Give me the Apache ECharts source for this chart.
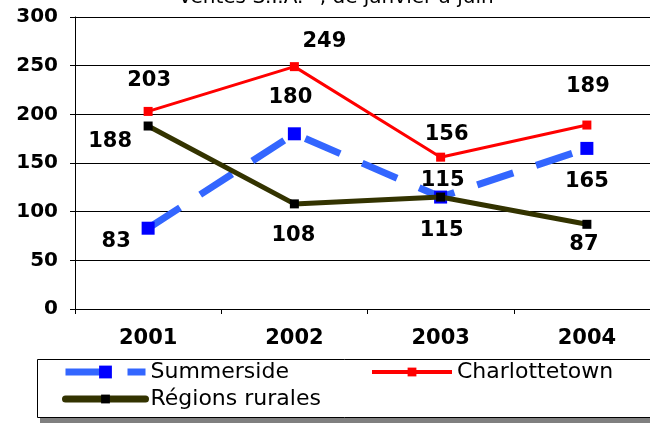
<!DOCTYPE html>
<html>
<head>
<meta charset="utf-8">
<script src="https://cdn.jsdelivr.net/npm/echarts@6/dist/echarts.min.js"></script>
<style>
  html, body { margin: 0; padding: 0; background: #fff; }
  #chart { width: 650px; height: 423px; }
</style>
</head>
<body>
<div id="chart"></div>
<script>
// Ventes S.I.A., janvier à juin
const years = ['2001', '2002', '2003', '2004'];
const summerside = [83, 180, 115, 165];
const charlottetown = [203, 249, 156, 189];
const rurales = [188, 108, 115, 87];
const yTicks = { min: 0, max: 300, step: 50 };

// where each value label sits relative to its point (pixels)
const summersideLabelPos = [[-32, 13], [-4, -36], [2, -17], [0, 33]];
const charlottetownLabelPos = [[1, -31], [30, -25], [6, -23], [1, -38]];
const ruralesLabelPos = [[-38, 16], [-1, 32], [1, 33], [-3, 20]];

const FONT = 'DejaVu Sans';

function labelAt(offset) {
    return {
        show: true,
        position: 'inside',
        offset: offset,
        color: '#000',
        fontFamily: FONT,
        fontWeight: 'bold',
        fontSize: 21
    };
}

function withLabels(values, offsets) {
    return values.map((v, i) => ({ value: v, label: labelAt(offsets[i]) }));
}

const legendText = { color: '#000', fontFamily: FONT, fontSize: 22 };

const chart = echarts.init(document.getElementById('chart'));
chart.setOption({
    animation: false,
    backgroundColor: '#fff',
    title: {
        text: 'Ventes S.I.A.* , de janvier à juin',
        left: 336,
        textAlign: 'center',
        top: -12,
        padding: 0,
        textStyle: { fontFamily: FONT, fontSize: 20, fontWeight: 'normal', color: '#000' }
    },
    grid: { left: 75, top: 17, width: 585, height: 292, containLabel: false, outerBoundsMode: 'none' },
    xAxis: {
        type: 'category',
        data: years,
        boundaryGap: true,
        axisLine: { lineStyle: { color: '#000', width: 1 } },
        axisTick: { show: true, length: 5, inside: false, lineStyle: { color: '#000' } },
        axisLabel: { margin: 19, color: '#000', fontFamily: FONT, fontWeight: 'bold', fontSize: 21 }
    },
    yAxis: {
        type: 'value',
        min: yTicks.min,
        max: yTicks.max,
        interval: yTicks.step,
        axisLine: { show: true, lineStyle: { color: '#000', width: 1 } },
        axisTick: { show: true, length: 5, lineStyle: { color: '#000' } },
        axisLabel: { margin: 17, color: '#000', fontFamily: FONT, fontWeight: 'bold', fontSize: 20 },
        splitLine: { show: true, lineStyle: { color: '#000', width: 1 } }
    },
    legend: [
        {
            data: ['Summerside'], left: 62, top: 361, padding: 0,
            itemWidth: 80, itemHeight: 16, textStyle: legendText,
            lineStyle: { width: 7 }
        },
        {
            data: ['Charlottetown'], left: 370, top: 361, padding: 0,
            itemWidth: 80, itemHeight: 11, textStyle: legendText,
            lineStyle: { width: 4 }
        },
        {
            data: ['Régions rurales'], left: 62, top: 388, padding: 0,
            itemWidth: 80, itemHeight: 11, textStyle: legendText,
            lineStyle: { width: 7, cap: 'round' }
        }
    ],
    graphic: [
        {
            type: 'rect', silent: true, z: -1,
            shape: { x: 37.5, y: 359.5, width: 700, height: 58 },
            style: { fill: '#fff', stroke: '#000', lineWidth: 1 }
        },
        {
            type: 'rect', silent: true, z: -1,
            shape: { x: 40, y: 418, width: 700, height: 5 },
            style: { fill: '#808080' }
        }
    ],
    series: [
        {
            name: 'Summerside',
            type: 'line',
            data: withLabels(summerside, summersideLabelPos),
            symbol: 'rect',
            symbolSize: 13,
            itemStyle: { color: '#0000ff' },
            lineStyle: { color: '#3366ff', width: 7, type: [38, 24] },
            z: 2
        },
        {
            name: 'Charlottetown',
            type: 'line',
            data: withLabels(charlottetown, charlottetownLabelPos),
            symbol: 'rect',
            symbolSize: 9,
            itemStyle: { color: '#ff0000' },
            lineStyle: { color: '#ff0000', width: 3 },
            z: 3
        },
        {
            name: 'Régions rurales',
            type: 'line',
            data: withLabels(rurales, ruralesLabelPos),
            symbol: 'rect',
            symbolSize: 9,
            itemStyle: { color: '#000000' },
            lineStyle: { color: '#333300', width: 5 },
            z: 4
        }
    ]
});
</script>
</body>
</html>
